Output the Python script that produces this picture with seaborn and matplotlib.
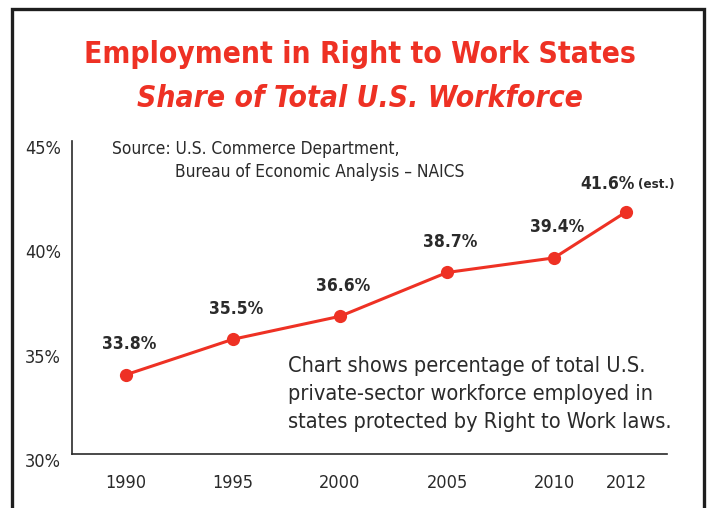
import numpy as np
import pandas as pd
import matplotlib
matplotlib.use("Agg")
from matplotlib import pyplot as plt
from matplotlib.patches import Rectangle
from matplotlib.transforms import ScaledTranslation
import seaborn as sns

years = [1990, 1995, 2000, 2005, 2010, 2012]
share = [33.8, 35.5, 36.6, 38.7, 39.4, 41.6]
labels = ["33.8%", "35.5%", "36.6%", "38.7%", "39.4%", "41.6%"]
yticks = [30, 35, 40, 45]

df = pd.DataFrame({"year": years, "share": share})

sns.set_style("white")
plt.rcParams['font.family'] = ['DejaVu Sans']
plt.rcParams['font.stretch'] = 'condensed'

red = "#ee3124"
dark = "#2a2a2a"

fig = plt.figure(figsize=(7.09, 5.08), dpi=100)
ax = fig.add_axes([0.1016, 0.1063, 0.8392, 0.6161])

# the last step (2010 -> 2012) is drawn wider than the year count would give
k = 1.68
def fwd(x):
    x = np.asarray(x, dtype=float)
    return np.where(x <= 2010, x, 2010 + (x - 2010) * k)
def inv(x):
    x = np.asarray(x, dtype=float)
    return np.where(x <= 2010, x, 2010 + (x - 2010) / k)
ax.set_xscale("function", functions=(fwd, inv))

sns.lineplot(data=df, x="year", y="share", ax=ax, color=red, lw=2.2,
             marker="o", markersize=9.5, markeredgewidth=0, clip_on=False)

ax.set_xlim(1987.48, 2013.14)
ax.set_ylim(30, 45)
ax.set_xticks(years)
ax.set_xticklabels([str(y) for y in years])
ax.set_yticks(yticks)
ax.set_yticklabels([f"{t}%" for t in yticks])
ax.set_xlabel("")
ax.set_ylabel("")

for s in ["top", "right"]:
    ax.spines[s].set_visible(False)
for s in ["left", "bottom"]:
    ax.spines[s].set_color(dark)
    ax.spines[s].set_linewidth(1.2)

ax.tick_params(axis="y", direction="in", length=11.5, width=1.1, color=dark,
               labelsize=13, labelcolor=dark, pad=8)
ax.tick_params(axis="x", direction="out", length=6.5, width=1.1, color=dark,
               labelsize=13, labelcolor=dark, pad=8)
for lab in ax.get_yticklabels():
    lab.set_transform(lab.get_transform() + ScaledTranslation(0, -6 / 100, fig.dpi_scale_trans))

for x, y, t in zip(years[:-1], share[:-1], labels[:-1]):
    ax.annotate(t, (x, y), xytext=(2, 22), textcoords="offset points",
                ha="center", va="center", fontsize=12.5, fontweight="bold", color=dark)
ax.annotate(labels[-1], (years[-1], share[-1]), xytext=(6, 20), textcoords="offset points",
            ha="right", va="center", fontsize=12.5, fontweight="bold", color=dark)
ax.annotate("(est.)", (years[-1], share[-1]), xytext=(8.5, 20), textcoords="offset points",
            ha="left", va="center", fontsize=9.5, fontweight="bold", color=dark)

fig.text(0.508, 0.892, "Employment in Right to Work States", ha="center", va="center",
         fontsize=21.5, fontweight="bold", color=red)
fig.text(0.508, 0.806, "Share of Total U.S. Workforce", ha="center", va="center",
         fontsize=21.5, fontweight="bold", fontstyle="italic", color=red)

fig.text(0.158, 0.707, "Source: U.S. Commerce Department,", ha="left", va="center",
         fontsize=12.4, color=dark)
fig.text(0.247, 0.661, "Bureau of Economic Analysis – NAICS", ha="left", va="center",
         fontsize=12.4, color=dark)

fig.text(0.406, 0.2244,
         "Chart shows percentage of total U.S.\nprivate-sector workforce employed in\nstates protected by Right to Work laws.",
         ha="left", va="center", fontsize=15.6, color=dark, linespacing=1.5)

fig.patches.append(Rectangle((0.017, -0.05), 0.976, 1.032, transform=fig.transFigure,
                             fill=False, edgecolor="#1e1e1e", lw=2.4))

fig.savefig("out.png", dpi=100)
